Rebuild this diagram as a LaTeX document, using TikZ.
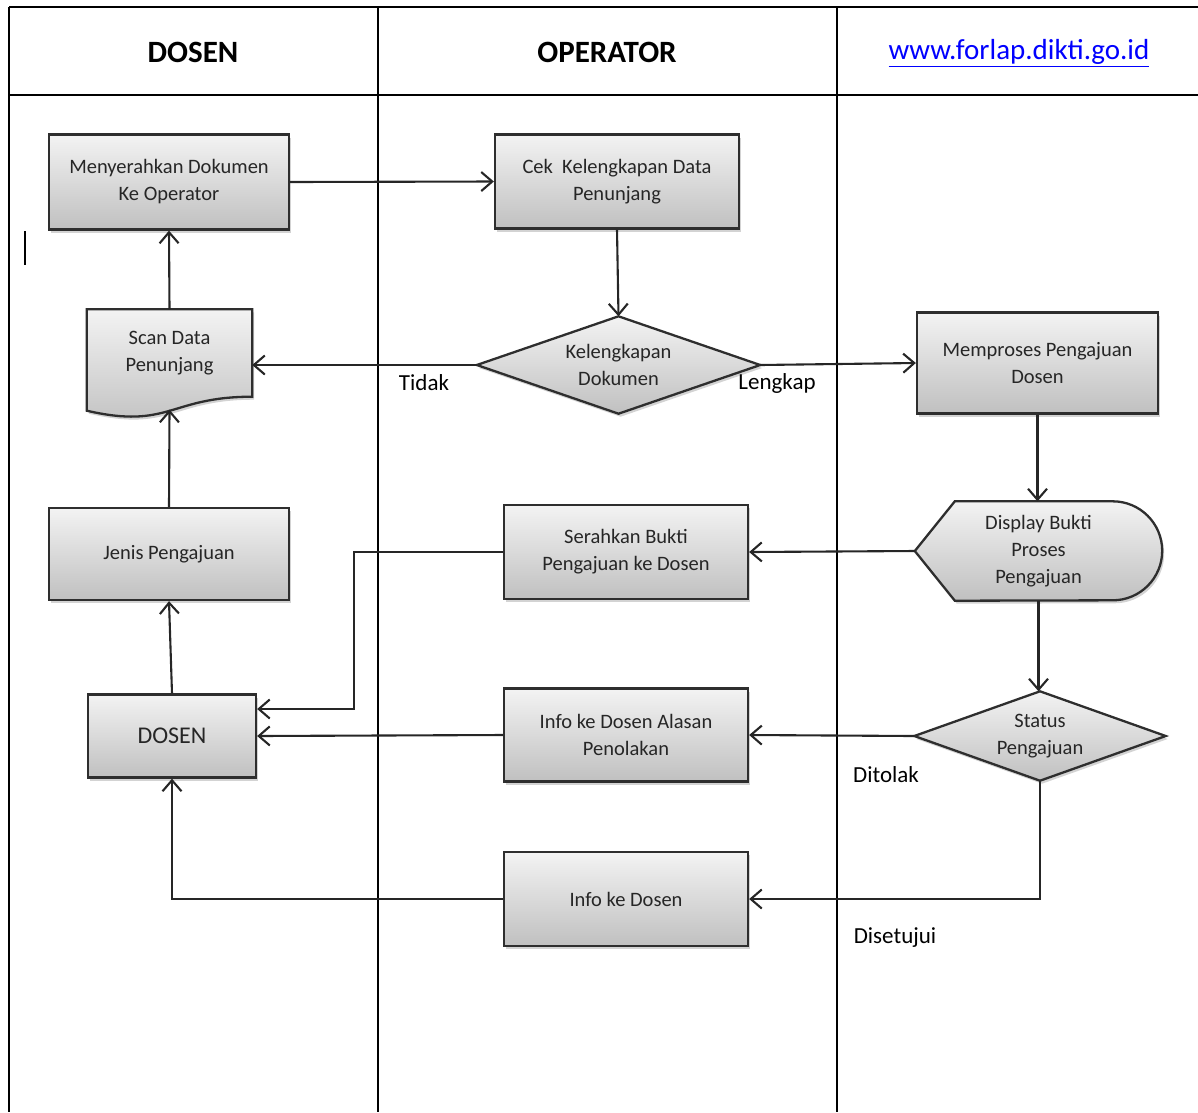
\documentclass[tikz,border=0pt]{standalone}
\usepackage{fontspec}
\setmainfont{Carlito}
\usetikzlibrary{arrows.meta,shadows,backgrounds,calc}

\definecolor{boxline}{HTML}{2E2E2E}
\definecolor{boxtop}{HTML}{F3F3F3}
\definecolor{boxbot}{HTML}{C0C0C0}
\definecolor{txtgray}{HTML}{262626}
\definecolor{conn}{HTML}{262626}
\definecolor{urlblue}{HTML}{0000FF}

\newcommand\bxfont{\fontsize{20.5}{27}\selectfont}
\newcommand\hdfont{\fontsize{31}{36}\selectfont}
\newcommand\lbfont{\fontsize{23}{28}\selectfont}

\tikzset{
  lane/.style={line width=2.8pt, black},
  myshadow/.style={drop shadow={shadow xshift=2pt, shadow yshift=-3pt, opacity=0.35}},
  flowbox/.style={draw=boxline, line width=2.3pt, top color=boxtop, bottom color=boxbot,
    myshadow, text=txtgray, font=\bxfont, align=center, inner sep=0pt},
  shapetext/.style={text=txtgray, font=\bxfont, align=center, inner sep=0pt},
  shapefill/.style={draw=boxline, line width=2.3pt, top color=boxtop, bottom color=boxbot, myshadow},
  conn/.style={draw=conn, line width=2.1pt, -{Straight Barb[length=11pt,width=19pt]}},
  hdr/.style={font=\hdfont\bfseries, inner sep=0pt},
  lbl/.style={font=\lbfont, inner sep=0pt}
}

\begin{document}
\begin{tikzpicture}[x=1pt,y=-1pt]
\useasboundingbox (0,0) rectangle (1198,1112);

% swimlane table
\draw[lane] (9,7) -- (1198,7);
\draw[lane] (9,95) -- (1198,95);
\draw[lane] (9,7) -- (9,1112);
\draw[lane] (378,7) -- (378,1112);
\draw[lane] (837,7) -- (837,1112);

\node[hdr] (hd1) at (193,52) {DOSEN};
\node[hdr] (hd2) at (607,52) {OPERATOR};
\node[font=\fontsize{29}{34}\selectfont, text=urlblue, inner sep=0pt] (hd3) at (1019,53) {\underline{www.forlap.dikti.go.id}};

% stray cursor mark
\draw[line width=2pt] (25,231) -- (25,265);

% DOSEN lane
\node[flowbox, minimum width=240pt, minimum height=95pt] (box1) at (169,182) {Menyerahkan Dokumen\\Ke Operator};
\node[shapetext, minimum width=165pt, minimum height=87pt] (scan) at (169.5,353) {Scan Data\\Penunjang};
\node[flowbox, minimum width=240pt, minimum height=92pt] (jenis) at (169,554) {Jenis Pengajuan};
\node[flowbox, minimum width=168pt, minimum height=83pt, font=\fontsize{24}{28}\selectfont] (dosen) at (172,736) {DOSEN};

% OPERATOR lane
\node[flowbox, minimum width=244pt, minimum height=94pt] (cek) at (617,181.5) {Cek\ \ Kelengkapan Data\\Penunjang};
\node[shapetext, minimum width=283pt, minimum height=97pt] (kel) at (618.5,365) {Kelengkapan\\Dokumen};
\node[flowbox, minimum width=244pt, minimum height=94pt] (serah) at (626,552) {Serahkan Bukti\\Pengajuan ke Dosen};
\node[flowbox, minimum width=244pt, minimum height=93pt] (alasan) at (626,735) {Info ke Dosen Alasan\\Penolakan};
\node[flowbox, minimum width=244pt, minimum height=94pt] (info) at (626,899) {Info ke Dosen};

% forlap lane
\node[flowbox, minimum width=241pt, minimum height=101pt] (mem) at (1037.5,363) {Memproses Pengajuan\\Dosen};
\node[shapetext, minimum width=247pt, minimum height=99pt] (disp) at (1038.5,551) {Display Bukti\\Proses\\Pengajuan};
\node[shapetext, minimum width=251pt, minimum height=89pt] (status) at (1040,736) {Status\\Pengajuan};

% custom shapes drawn behind their texts
\begin{pgfonlayer}{background}
\path[shapefill] (scan.north west) -- (scan.north east) -- (scan.south east)
  .. controls ($(scan.south)$) and ($(scan.south)+(0,33)$) .. ($(scan.south west)+(0,14)$) -- cycle;
\path[shapefill] (kel.west) -- (kel.north) -- (kel.east) -- (kel.south) -- cycle;
\path[shapefill] (status.west) -- (status.north) -- (status.east) -- (status.south) -- cycle;
\path[shapefill] (disp.west) -- ($(disp.north west)+(40,0)$) -- ($(disp.north east)+(-49.5,0)$)
  arc[start angle=-90, end angle=90, radius=49.5] -- ($(disp.south west)+(40,0)$) -- cycle;
\end{pgfonlayer}

% connectors
\draw[conn] (box1.east) -- (cek.west);
\draw[conn] (cek.south) -- (kel.north);
\draw[conn] (kel.west) -- (kel.west -| scan.east);
\draw[conn] (kel.east) -- (mem.west);
\draw[conn] (mem.south) -- (mem.south |- disp.north);
\draw[conn] (disp.west) -- (serah.east);
\coordinate (j1) at (354,709);
\draw[conn] (serah.west) -| (j1) -- (j1 -| dosen.east);
\draw[conn] (alasan.west) -- (dosen.east);
\draw[conn] (disp.south) -- (disp.south |- status.north);
\draw[conn] (status.west) -- (alasan.east);
\draw[conn] (status.south) |- (info.east);
\draw[conn] (info.west) -| (dosen.south);
\draw[conn] (dosen.north) -- (jenis.south);
\draw[conn] (jenis.north) -- ($(scan.south)+(0,13)$);
\draw[conn] (scan.north) -- (box1.south);

% labels
\node[lbl] (t1) at (424,383) {Tidak};
\node[lbl] (t2) at (777,383) {Lengkap};
\node[lbl] (t3) at (886,775) {Ditolak};
\node[lbl] (t4) at (895,938) {Disetujui};
\end{tikzpicture}
\end{document}
